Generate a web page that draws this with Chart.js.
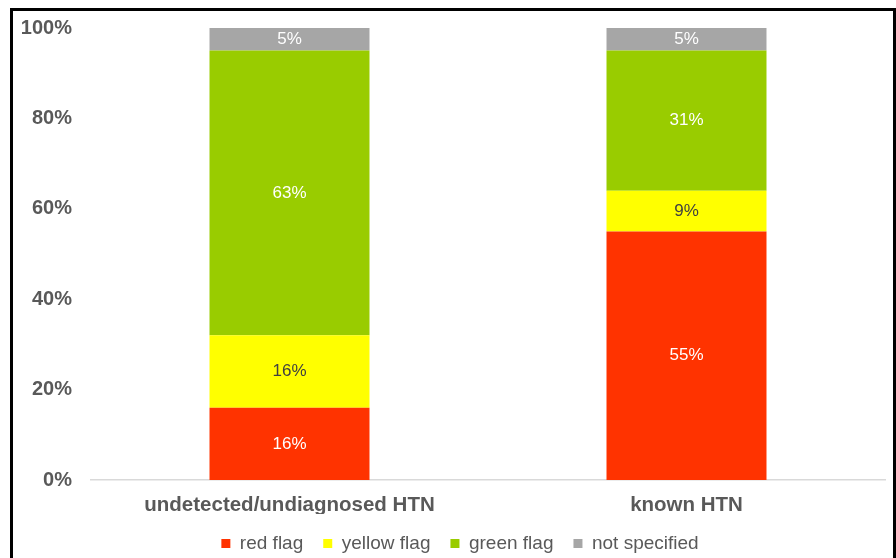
<!DOCTYPE html>
<html>
<head>
<meta charset="utf-8">
<script src="https://cdn.jsdelivr.net/npm/chart.js@4.4.1/dist/chart.umd.min.js"></script>
<style>
  html, body { margin: 0; padding: 0; background: #fff; overflow: hidden; }
  #frame { position: absolute; left: 10px; top: 8px; width: 880px; height: 600px; border: 3px solid #000; }
  #wrap { position: absolute; left: 0; top: 0; width: 896px; height: 563px; }
</style>
</head>
<body>
<div id="frame"></div>
<div id="wrap"><canvas id="chart"></canvas></div>
<script>
// categories + series (percent of each group)
const categories = ['undetected/undiagnosed HTN', 'known HTN'];
const redFlag = [16, 55];
const yellowFlag = [16, 9];
const greenFlag = [63, 31];
const notSpecified = [5, 5];
const yTicks = [0, 20, 40, 60, 80, 100];

const TEXT = '#595959';
const FONT = 'Arial, "Liberation Sans", sans-serif';

// draws the value labels in the middle of each segment
const segLabels = {
  id: 'segLabels',
  afterDatasetsDraw(chart) {
    const ctx = chart.ctx;
    ctx.save();
    ctx.font = '17px ' + FONT;
    ctx.textAlign = 'center';
    ctx.textBaseline = 'middle';
    chart.data.datasets.forEach((ds, i) => {
      const meta = chart.getDatasetMeta(i);
      meta.data.forEach((bar, j) => {
        const v = ds.data[j];
        if (!v) return;
        ctx.fillStyle = ds.labelColor;
        ctx.fillText(v + '%', bar.x, (bar.y + bar.base) / 2);
      });
    });
    ctx.restore();
  }
};

const mk = (label, data, color, labelColor) => ({
  label, data, backgroundColor: color, labelColor,
  categoryPercentage: 1, barPercentage: 0.403, borderWidth: 0
});

new Chart(document.getElementById('chart'), {
  type: 'bar',
  data: {
    labels: categories,
    datasets: [
      mk('red flag', redFlag, '#FF3300', '#FFFFFF'),
      mk('yellow flag', yellowFlag, '#FFFF00', '#404040'),
      mk('green flag', greenFlag, '#99CC00', '#FFFFFF'),
      mk('not specified', notSpecified, '#A6A6A6', '#FFFFFF')
    ]
  },
  options: {
    responsive: true,
    maintainAspectRatio: false,
    animation: false,
    // negative right pad + empty right axis so the legend centres like the original
    layout: { padding: { top: 28, right: -24, left: 0, bottom: 0 } },
    plugins: {
      tooltip: { enabled: false },
      legend: {
        position: 'bottom',
        labels: {
          color: TEXT,
          font: { family: FONT, size: 19 },
          boxWidth: 9,
          boxHeight: 9,
          padding: 20
        }
      }
    },
    scales: {
      x: {
        stacked: true,
        grid: { display: false, drawTicks: false },
        border: { display: true, color: '#D9D9D9', width: 1.5 },
        ticks: { color: TEXT, font: { family: FONT, size: 20.5, weight: 'bold' }, padding: 13 },
        afterFit(s) { s.height = 34; }
      },
      y: {
        stacked: true,
        min: 0,
        max: 100,
        afterBuildTicks(s) { s.ticks = yTicks.map(v => ({ value: v })); },
        grid: { display: false, drawTicks: false },
        border: { display: false },
        ticks: {
          color: TEXT,
          font: { family: FONT, size: 20, weight: 'bold' },
          padding: 19,
          callback: v => v + '%'
        },
        afterFit(s) { s.width = 91; s.paddingTop = 0; s.paddingBottom = 0; }
      },
      yR: {
        position: 'right',
        min: 0,
        max: 100,
        grid: { display: false, drawTicks: false },
        border: { display: false },
        ticks: { display: false },
        afterFit(s) { s.width = 35; }
      }
    }
  },
  plugins: [segLabels]
});
</script>
</body>
</html>
